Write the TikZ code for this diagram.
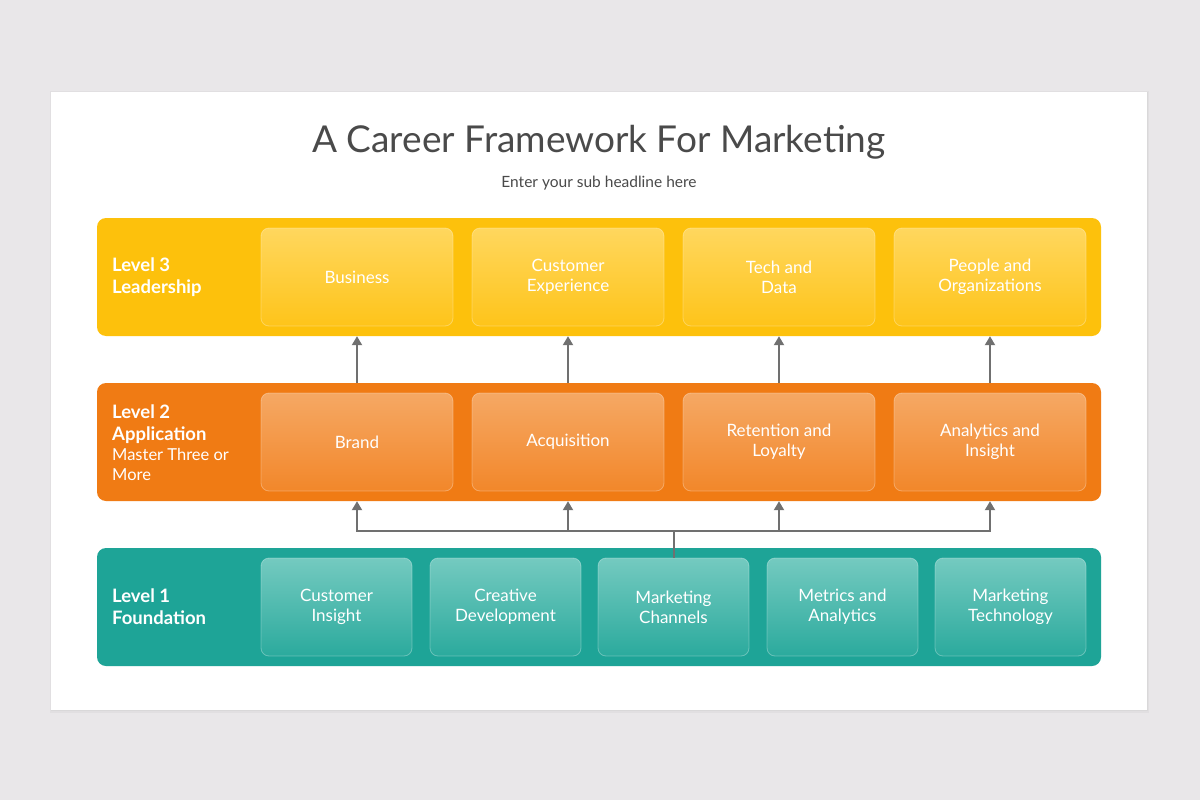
\documentclass[tikz,border=0pt]{standalone}
\usepackage{fontspec}
\setmainfont{Lato}
\usetikzlibrary{arrows.meta}
\definecolor{pagegray}{HTML}{E9E7E9}
\definecolor{titlegray}{HTML}{4A4A4A}
\definecolor{yelband}{HTML}{FDC10C}
\definecolor{yeltop}{HTML}{FFD75E}
\definecolor{yelbot}{HTML}{FEC41A}
\definecolor{orgband}{HTML}{F07B14}
\definecolor{orgtop}{HTML}{F5A864}
\definecolor{orgbot}{HTML}{F2872A}
\definecolor{tealband}{HTML}{1EA497}
\definecolor{tealtop}{HTML}{74CAC0}
\definecolor{tealbot}{HTML}{2BAA9D}
\definecolor{arrgray}{HTML}{707070}
\begin{document}
\begin{tikzpicture}[x=1pt,y=-1pt,
  band/.style={rounded corners=9pt, minimum width=1004pt, minimum height=118pt, inner sep=0pt},
  box/.style={rounded corners=8pt, minimum height=98pt, inner sep=0pt, draw=white, draw opacity=0.3, line width=0.8pt,
    text=white, align=center, font=\fontsize{17}{20}\selectfont},
  wide/.style={box, minimum width=192pt},
  narrow/.style={box, minimum width=151pt},
  lvl/.style={anchor=west, align=left, inner sep=0pt, text=white, font=\fontsize{18.5}{22}\selectfont},
  arr/.style={draw=arrgray, line width=2pt, -{Triangle[length=9pt,width=10pt]}}]
\fill[pagegray] (0,0) rectangle (1200,800);
\fill[black, opacity=0.03] (50,91) rectangle (1149,713);
\fill[black, opacity=0.03] (51,92) rectangle (1148,711);
\fill[white] (51,92) rectangle (1147,710);
\node[text=titlegray, font=\fontsize{37}{40}\selectfont] (title) at (599,142) {A Career Framework For Marketing};
\node[text=titlegray, font=\fontsize{15.5}{18}\selectfont] (subtitle) at (599,183) {Enter your sub headline here};
% level 3
\node[band, fill=yelband] (band3) at (599,277) {};
\node[lvl] (lvl3) at (112,277) {\textbf{Level 3}\\\textbf{Leadership}};
\node[wide, top color=yeltop, bottom color=yelbot] (b31) at (357,277) {Business};
\node[wide, top color=yeltop, bottom color=yelbot] (b32) at (568,277) {Customer\\Experience};
\node[wide, top color=yeltop, bottom color=yelbot] (b33) at (779,277) {Tech and\\Data};
\node[wide, top color=yeltop, bottom color=yelbot] (b34) at (990,277) {People and\\Organizations};
% level 2
\node[band, fill=orgband] (band2) at (599,442) {};
\node[lvl] (lvl2) at (112,443) {\textbf{Level 2}\\\textbf{Application}\\[-2pt]{\fontsize{16.5}{20}\selectfont Master Three or}\\[-2pt]{\fontsize{16.5}{20}\selectfont More}};
\node[wide, top color=orgtop, bottom color=orgbot] (b21) at (357,442) {Brand};
\node[wide, top color=orgtop, bottom color=orgbot] (b22) at (568,442) {Acquisition};
\node[wide, top color=orgtop, bottom color=orgbot] (b23) at (779,442) {Retention and\\Loyalty};
\node[wide, top color=orgtop, bottom color=orgbot] (b24) at (990,442) {Analytics and\\Insight};
% level 1
\node[band, fill=tealband] (band1) at (599,607) {};
\node[lvl] (lvl1) at (112,607) {\textbf{Level 1}\\\textbf{Foundation}};
\node[narrow, top color=tealtop, bottom color=tealbot] (b11) at (336.5,607) {Customer\\Insight};
\node[narrow, top color=tealtop, bottom color=tealbot] (b12) at (505.5,607) {Creative\\Development};
\node[narrow, top color=tealtop, bottom color=tealbot] (b13) at (673.5,607) {Marketing\\Channels};
\node[narrow, top color=tealtop, bottom color=tealbot] (b14) at (842.5,607) {Metrics and\\Analytics};
\node[narrow, top color=tealtop, bottom color=tealbot] (b15) at (1010.5,607) {Marketing\\Technology};
% connectors
\draw[arr] (b21 |- band2.north) -- (b31 |- band3.south);
\draw[arr] (b22 |- band2.north) -- (b32 |- band3.south);
\draw[arr] (b23 |- band2.north) -- (b33 |- band3.south);
\draw[arr] (b24 |- band2.north) -- (b34 |- band3.south);
\coordinate (hub) at (673.5,531);
\draw[draw=arrgray, line width=2pt] (b13.north) -- (hub);
\draw[arr] (hub) -| (b21 |- band2.south);
\draw[arr] (hub) -| (b22 |- band2.south);
\draw[arr] (hub) -| (b23 |- band2.south);
\draw[arr] (hub) -| (b24 |- band2.south);
\end{tikzpicture}
\end{document}
